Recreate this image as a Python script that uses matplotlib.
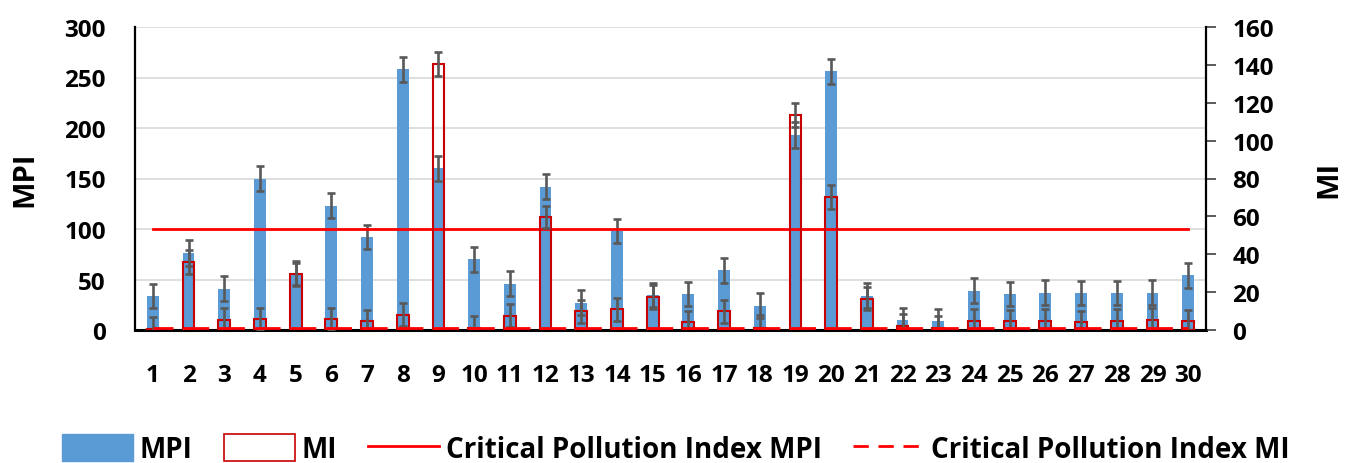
import matplotlib
matplotlib.use("Agg")
import matplotlib.pyplot as plt
from matplotlib.patches import Patch
from matplotlib.lines import Line2D
import numpy as np

plt.rcParams['font.family'] = ['Open Sans', 'DejaVu Sans']
plt.rcParams['font.weight'] = 'bold'
plt.rcParams['lines.scale_dashes'] = False

sites = [str(i) for i in range(1, 31)]
mpi = [34, 76, 41, 150, 56, 123, 92, 258, 160, 70, 46, 142, 27, 98, 35,
       36, 59, 24, 193, 256, 34, 10, 9, 39, 36, 37, 37, 37, 37, 54]
mpi_err = [12, 13, 12, 12.5, 12, 12.5, 12, 12.5, 12.5, 12.5, 12.5, 12.5, 12.5, 12.2, 12,
           12, 12.5, 12.5, 12.5, 12.5, 12.5, 12, 12, 12.5, 12, 12.5, 12, 12, 12.5, 12]
mi = [0.7, 36, 5.3, 6.0, 29.6, 6.0, 4.8, 8.1, 140.3, 0.9, 7.6, 59.7, 9.9, 10.9, 17.5,
      4.1, 9.9, 1.2, 113.5, 70.1, 16.6, 2.1, 1.1, 4.9, 4.6, 4.9, 4.1, 4.8, 5.3, 4.8]
mi_err = [6.3, 6.3, 6.2, 5.8, 6.0, 5.8, 5.9, 6.0, 6.3, 6.5, 6.0, 6.0, 6.0, 5.9, 6.2,
          6.0, 6.0, 6.7, 6.2, 6.3, 6.0, 6.2, 6.1, 6.0, 6.1, 6.0, 5.9, 6.1, 6.1, 6.0]
crit_mpi = 100
crit_mi = 1

BLUE = '#5B9BD5'
RED = '#FF0000'
DARKRED = '#C80000'
GREY = '#595959'

W, H = 1351, 464
fig = plt.figure(figsize=(W / 100, H / 100), dpi=100)
ax1 = fig.add_axes([135 / W, 1 - 331 / H, (1206 - 135) / W, (331 - 28) / H])
ax2 = ax1.twinx()

x = np.arange(1, len(sites) + 1)
bw = 0.33

# MPI bars (primary axis)
ax1.bar(x, mpi, width=bw, color=BLUE, zorder=2)
ax1.errorbar(x, mpi, yerr=mpi_err, fmt='none', ecolor=GREY, elinewidth=1.9,
             capsize=3.2, capthick=1.9, zorder=3)
ax1.plot([x[0], x[-1]], [crit_mpi, crit_mpi], color=RED, lw=2.0, zorder=4)

ax1.set_xlim(0.5, 30.5)
ax1.set_ylim(0, 300)
ax1.set_yticks(np.arange(0, 301, 50))
ax1.grid(axis='y', color='#D9D9D9', lw=1.2)
ax1.set_axisbelow(True)
ax1.set_xticks(x)
ax1.set_xticklabels(sites)
ax1.tick_params(axis='x', length=0, pad=24, labelsize=17.5)
ax1.tick_params(axis='y', length=0, pad=21, labelsize=17.5)
for s in ['top', 'right']:
    ax1.spines[s].set_visible(False)
ax1.spines['left'].set_linewidth(1.6)
ax1.spines['bottom'].set_linewidth(2.2)
ax1.set_ylabel('MPI', fontsize=21, fontweight='bold')
ax1.yaxis.set_label_coords((39 - 135) / 1071, 0.5)

# MI bars (secondary axis)
ax2.bar(x, mi, width=bw, facecolor='none', edgecolor=DARKRED, lw=1.5, zorder=2)
ax2.errorbar(x, mi, yerr=mi_err, fmt='none', ecolor=GREY, elinewidth=1.9,
             capsize=3.2, capthick=1.9, zorder=3)
ax2.plot([x[0], x[-1]], [crit_mi, crit_mi], color=RED, lw=2.0, zorder=4,
         linestyle=(4.3, (18.7, 7.0)))
ax2.set_ylim(0, 160)
ax2.set_yticks(np.arange(0, 161, 20))
ax2.tick_params(axis='y', length=7, width=1.2, color='#404040', pad=12, labelsize=17.5)
for s in ['top', 'left', 'bottom']:
    ax2.spines[s].set_visible(False)
ax2.spines['right'].set_linewidth(1.6)
ax2.set_ylabel('MI', fontsize=21, fontweight='bold')
ax2.yaxis.set_label_coords((1314 - 135) / 1071, 0.5)

handles = [
    Patch(facecolor=BLUE, edgecolor=BLUE),
    Patch(facecolor='white', edgecolor=DARKRED, lw=1.2),
    Line2D([], [], color=RED, lw=2.0),
    Line2D([], [], color=RED, lw=2.0, linestyle=(0, (11, 7))),
]
labels = ['MPI', 'MI', 'Critical Pollution Index MPI', 'Critical Pollution Index MI']
fig.legend(handles, labels, loc='center left', bbox_to_anchor=(62 / W, 1 - 450 / H),
           ncol=4, frameon=False, handlelength=2.55, handleheight=1.1,
           handletextpad=0.25, columnspacing=1.12, borderpad=0, borderaxespad=0,
           prop={'weight': 'bold', 'size': 20})

fig.savefig('out.png', dpi=100)
